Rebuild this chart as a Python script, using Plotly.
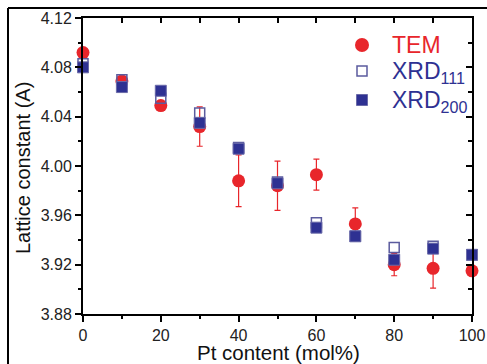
import plotly.graph_objects as go

pt = [0, 10, 20, 30, 40, 50, 60, 70, 80, 90, 100]
tem = [4.092, 4.069, 4.049, 4.032, 3.988, 3.984, 3.993, 3.953, 3.920, 3.917, 3.915]
tem_err = [0.0, 0.0, 0.0, 0.016, 0.021, 0.020, 0.0125, 0.013, 0.009, 0.016, 0.0]
xrd111 = [4.083, 4.070, 4.055, 4.043, 4.015, 3.987, 3.954, 3.943, 3.934, 3.935, 3.928]
xrd200 = [4.080, 4.064, 4.061, 4.035, 4.014, 3.986, 3.950, 3.943, 3.924, 3.933, 3.928]

legend_names = ["TEM", "XRD<sub>111</sub>", "XRD<sub>200</sub>"]
x_title = "Pt content (mol%)"
y_title = "Lattice constant (A)"

RED = "#e8262b"
BLUE = "#2e3192"
OPEN = "#5b5b9e"
FONT = "Liberation Sans"

W, H = 487, 364
L, R, T, B = 83, 15, 18, 50
PW, PH = W - L - R, H - T - B


def px(x):
    return (x - L) / PW


def py(y):
    return (H - B - y) / PH


fig = go.Figure()
fig.add_trace(go.Scatter(
    x=pt, y=tem, mode="markers", name=legend_names[0],
    marker=dict(symbol="circle", size=13, color=RED, line=dict(width=0)),
    error_y=dict(type="data", array=tem_err, visible=True, color=RED, thickness=1.2, width=3),
    cliponaxis=False, showlegend=False,
))
fig.add_trace(go.Scatter(
    x=pt, y=xrd111, mode="markers", name=legend_names[1],
    marker=dict(symbol="square-open", size=10, color=OPEN, line=dict(width=1.5)),
    cliponaxis=False, showlegend=False,
))
fig.add_trace(go.Scatter(
    x=pt, y=xrd200, mode="markers", name=legend_names[2],
    marker=dict(symbol="square", size=11, color=BLUE, line=dict(width=1, color="#6a6aa8")),
    cliponaxis=False, showlegend=False,
))
# helper trace so the mirrored axes are drawn
fig.add_trace(go.Scatter(x=[None], y=[None], xaxis="x2", yaxis="y2", showlegend=False, hoverinfo="skip"))

axis_common = dict(showline=True, linewidth=2, linecolor="black", showgrid=False,
                   zeroline=False, automargin=False)
fig.update_layout(
    width=W, height=H,
    margin=dict(l=L, r=R, t=T, b=B, autoexpand=False),
    plot_bgcolor="white", paper_bgcolor="white",
    font=dict(family=FONT, color="#222222"),
    xaxis=dict(range=[0, 100], tickmode="linear", tick0=0, dtick=20,
               ticks="outside", ticklen=6, tickwidth=1.5, tickcolor="black",
               minor=dict(dtick=10, ticks="outside", ticklen=3, tickwidth=1.5, tickcolor="black"),
               tickfont=dict(size=16, family=FONT, color="#222222"),
               **axis_common),
    yaxis=dict(range=[3.88, 4.12], tickmode="linear", tick0=3.88, dtick=0.04, tickformat=".2f",
               ticks="outside", ticklen=6, tickwidth=1.5, tickcolor="black",
               minor=dict(dtick=0.02, ticks="outside", ticklen=3, tickwidth=1.5, tickcolor="black"),
               tickfont=dict(size=16, family=FONT, color="#222222"),
               **axis_common),
    xaxis2=dict(range=[0, 100], overlaying="x", side="top", matches="x",
                tickmode="linear", tick0=0, dtick=10, ticks="inside", ticklen=5,
                tickwidth=1.5, tickcolor="black", showticklabels=False, **axis_common),
    yaxis2=dict(range=[3.88, 4.12], overlaying="y", side="right", matches="y",
                tickmode="linear", tick0=3.88, dtick=0.04, ticks="inside", ticklen=6,
                tickwidth=1.5, tickcolor="black", showticklabels=False,
                minor=dict(dtick=0.02, ticks="inside", ticklen=4, tickwidth=1.5, tickcolor="black"),
                **axis_common),
    showlegend=False,
)

# axis titles
fig.add_annotation(xref="paper", yref="paper", x=px(278), y=py(352), xanchor="center", yanchor="middle",
                   text=x_title, showarrow=False, font=dict(size=20.5, family=FONT, color="#111111"))
fig.add_annotation(xref="paper", yref="paper", x=px(23), y=py(168), xanchor="center", yanchor="middle",
                   text=y_title, textangle=-90, showarrow=False,
                   font=dict(size=20, family=FONT, color="#111111"))

# custom legend (symbols + labels)
mx = 362
rows = [45, 71, 100]
fig.add_shape(type="circle", xref="paper", yref="paper",
              x0=px(mx - 7), x1=px(mx + 7), y0=py(rows[0] + 7), y1=py(rows[0] - 7),
              fillcolor=RED, line=dict(width=0))
fig.add_shape(type="rect", xref="paper", yref="paper",
              x0=px(mx - 5), x1=px(mx + 5), y0=py(rows[1] + 5), y1=py(rows[1] - 5),
              fillcolor="white", line=dict(width=1.5, color=OPEN))
fig.add_shape(type="rect", xref="paper", yref="paper",
              x0=px(mx - 5.5), x1=px(mx + 5.5), y0=py(rows[2] + 5.5), y1=py(rows[2] - 5.5),
              fillcolor=BLUE, line=dict(width=1, color="#6a6aa8"))
colors = [RED, BLUE, BLUE]
for name, row, col in zip(legend_names, rows, colors):
    fig.add_annotation(xref="paper", yref="paper", x=px(391), y=py(row - 14),
                       xanchor="left", yanchor="top", text=name, showarrow=False,
                       font=dict(size=23, family=FONT, color=col), borderpad=0)

# outer frame lines of the original figure (top and left)
fig.add_shape(type="line", xref="paper", yref="paper", x0=px(8), x1=px(W + 2), y0=py(8), y1=py(8),
              line=dict(color="black", width=2))
fig.add_shape(type="line", xref="paper", yref="paper", x0=px(8), x1=px(8), y0=py(8), y1=py(H + 2),
              line=dict(color="black", width=2))

fig.write_html("out.html")
